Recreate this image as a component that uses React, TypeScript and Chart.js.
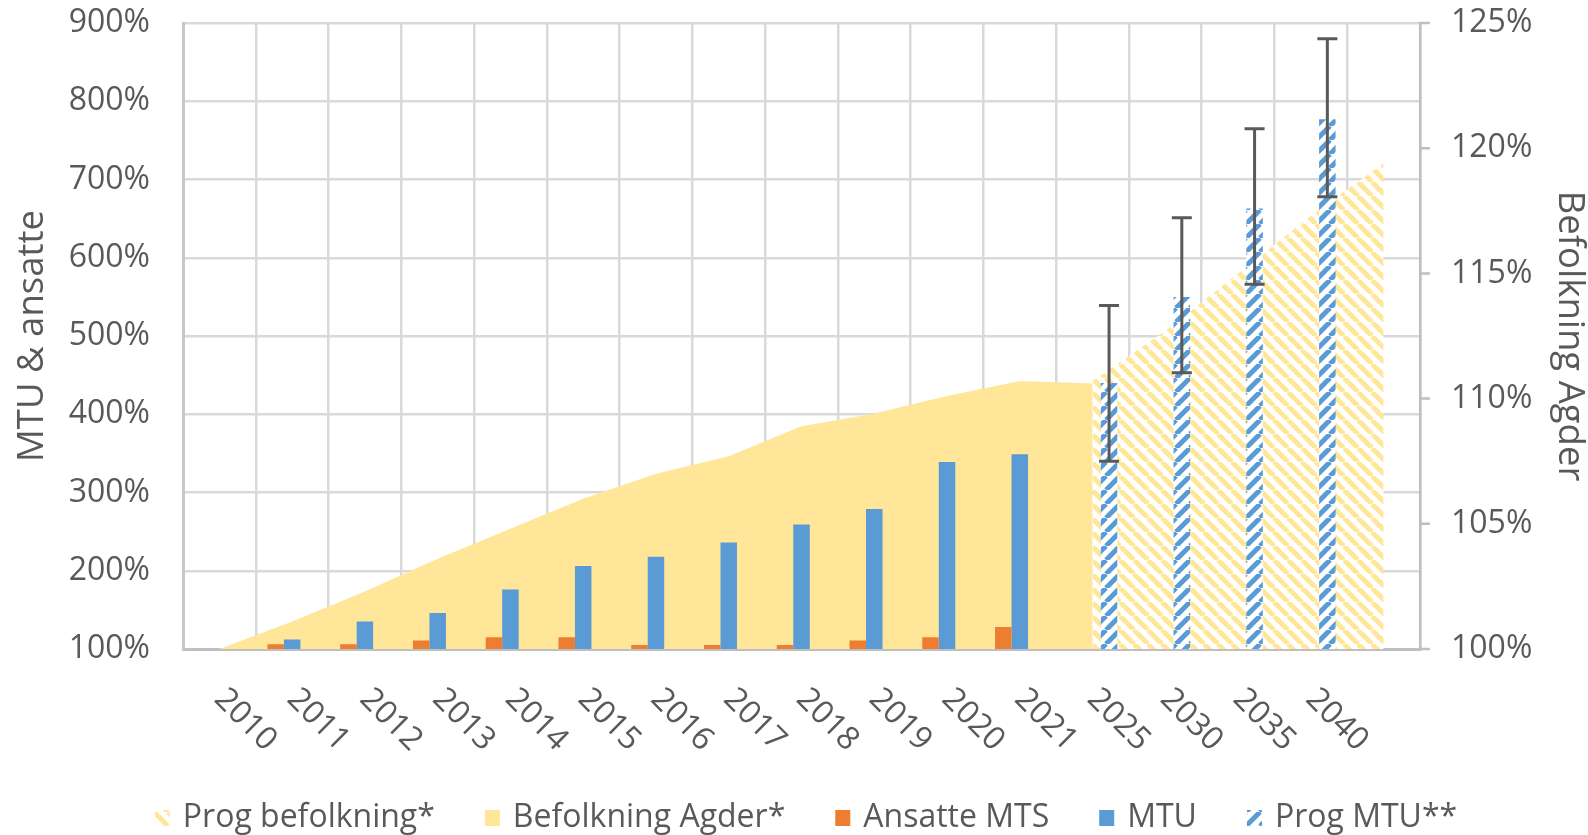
import { useEffect, useRef } from 'react';
import { Chart, registerables } from 'chart.js';

Chart.register(...registerables);

// ---- data ----
const categories = ['2010', '2011', '2012', '2013', '2014', '2015', '2016', '2017', '2018', '2019', '2020', '2021', '2025', '2030', '2035', '2040', ''];
const befolkningAgder = [100.0, 101.1, 102.3, 103.6, 104.8, 106.0, 107.0, 107.7, 108.9, 109.4, 110.1, 110.7, 110.6, null, null, null, null];
const progBefolkning = [null, null, null, null, null, null, null, null, null, null, null, null, 110.7, 112.7, 115.0, 117.3, 119.4];
const ansatteMTS = [100, 106, 106, 111, 115, 115, 105, 105, 105, 111, 115, 128, null, null, null, null, null];
const mtu = [100, 112, 135, 146, 176, 206, 218, 236, 259, 279, 339, 349, null, null, null, null, null];
const progMTU = [null, null, null, null, null, null, null, null, null, null, null, null, 440, 550, 663, 777, null];
const progMTULow = [null, null, null, null, null, null, null, null, null, null, null, null, 340, 453, 566, 678, null];
const progMTUHigh = [null, null, null, null, null, null, null, null, null, null, null, null, 539, 651, 765, 880, null];
const leftAxis = { min: 100, max: 900, step: 100 };
const rightAxis = { min: 100, max: 125, step: 5 };
const legendLabels = ['Prog befolkning*', 'Befolkning Agder*', 'Ansatte MTS', 'MTU', 'Prog MTU**'];

const FONT = "'Open Sans', 'Noto Sans', sans-serif";
const TEXT = '#595959';
const YELLOW = '#FFE699';
const ORANGE = '#ED7D31';
const BLUE = '#5B9BD5';
const TICK_SIZE = 32;
const TITLE_SIZE = 36.5;

function makePattern(ctx: CanvasRenderingContext2D, color: string, dir: 'down' | 'up') {
  const T = 14;
  const c = document.createElement('canvas');
  c.width = T;
  c.height = T;
  const g = c.getContext('2d')!;
  g.fillStyle = '#ffffff';
  g.fillRect(0, 0, T, T);
  g.strokeStyle = color;
  g.lineWidth = 5;
  g.beginPath();
  for (let k = -1; k <= 1; k++) {
    if (dir === 'down') {
      g.moveTo(k * T, 0);
      g.lineTo(k * T + T, T);
    } else {
      g.moveTo(k * T, T);
      g.lineTo(k * T + T, 0);
    }
  }
  g.stroke();
  return ctx.createPattern(c, 'repeat')!;
}

export default function App() {
  const ref = useRef<HTMLCanvasElement | null>(null);

  useEffect(() => {
    const canvas = ref.current!;
    const ctx = canvas.getContext('2d')!;
    const yellowHatch = makePattern(ctx, YELLOW, 'down');
    const blueHatch = makePattern(ctx, BLUE, 'up');
    const legendFills: any[] = [yellowHatch, YELLOW, ORANGE, BLUE, blueHatch];

    const customPlugin = {
      id: 'customDraw',
      afterDatasetsDraw(chart: any) {
        const c = chart.ctx;
        const y = chart.scales.y;
        const meta = chart.getDatasetMeta(4);
        c.save();
        c.strokeStyle = '#595959';
        c.lineWidth = 3;
        progMTU.forEach((v, i) => {
          if (v == null || progMTULow[i] == null) return;
          const x = meta.data[i].x;
          const yl = y.getPixelForValue(progMTULow[i]);
          const yh = y.getPixelForValue(progMTUHigh[i]);
          c.beginPath();
          c.moveTo(x, yl);
          c.lineTo(x, yh);
          c.moveTo(x - 10, yl);
          c.lineTo(x + 10, yl);
          c.moveTo(x - 10, yh);
          c.lineTo(x + 10, yh);
          c.stroke();
        });
        c.restore();
      },
      afterDraw(chart: any) {
        const c = chart.ctx;
        const xs = chart.scales.x;
        const y1 = chart.scales.y1;
        const area = chart.chartArea;
        c.save();
        // outward tick marks on the right axis
        c.strokeStyle = '#BFBFBF';
        c.lineWidth = 2.5;
        c.beginPath();
        y1.ticks.forEach((t: any) => {
          const py = y1.getPixelForValue(t.value);
          c.moveTo(area.right, py);
          c.lineTo(area.right + 10, py);
        });
        c.stroke();
        // rotated category labels
        c.fillStyle = TEXT;
        c.font = `${TICK_SIZE}px ${FONT}`;
        c.textAlign = 'left';
        c.textBaseline = 'middle';
        categories.forEach((lab, i) => {
          if (!lab) return;
          const x = xs.getPixelForValue(i);
          c.save();
          c.translate(x, area.bottom + 45);
          c.rotate(Math.PI / 4);
          c.fillText(lab, 0, 0);
          c.restore();
        });
        // legend
        const boxW = 15, boxH = 16, gap = 13, spacing = 50;
        const widths = legendLabels.map((t) => c.measureText(t).width);
        const total = widths.reduce((a, w) => a + boxW + gap + w, 0) + spacing * (legendLabels.length - 1);
        let lx = 806 - total / 2;
        const baseY = 827;
        c.textBaseline = 'alphabetic';
        legendLabels.forEach((t, i) => {
          c.fillStyle = legendFills[i];
          c.fillRect(lx, baseY - 17, boxW, boxH);
          c.fillStyle = TEXT;
          c.fillText(t, lx + boxW + gap, baseY);
          lx += boxW + gap + widths[i] + spacing;
        });
        c.restore();
      },
    };

    const chart = new Chart(canvas, {
      type: 'bar',
      data: {
        labels: categories,
        datasets: [
          {
            type: 'line',
            label: 'Prog befolkning*',
            data: progBefolkning,
            yAxisID: 'y1',
            fill: 'start',
            backgroundColor: yellowHatch,
            borderColor: 'rgba(0,0,0,0)',
            borderWidth: 0,
            pointRadius: 0,
            tension: 0,
            order: 5,
          } as any,
          {
            type: 'line',
            label: 'Befolkning Agder*',
            data: befolkningAgder,
            yAxisID: 'y1',
            fill: 'start',
            backgroundColor: YELLOW,
            borderColor: 'rgba(0,0,0,0)',
            borderWidth: 0,
            pointRadius: 0,
            tension: 0,
            order: 4,
          } as any,
          {
            label: 'Ansatte MTS',
            data: ansatteMTS,
            yAxisID: 'y',
            backgroundColor: ORANGE,
            barPercentage: 1,
            categoryPercentage: 0.68,
            order: 1,
          },
          {
            label: 'MTU',
            data: mtu,
            yAxisID: 'y',
            backgroundColor: BLUE,
            barPercentage: 1,
            categoryPercentage: 0.68,
            order: 1,
          },
          {
            label: 'Prog MTU**',
            data: progMTU,
            yAxisID: 'y',
            backgroundColor: blueHatch,
            barPercentage: 1,
            categoryPercentage: 0.68,
            order: 1,
          },
        ] as any,
      },
      options: {
        responsive: false,
        animation: false,
        layout: { padding: { top: 23, left: 0, right: 0, bottom: 0 } },
        plugins: {
          legend: { display: false },
          title: { display: false },
          subtitle: { display: false },
          tooltip: { enabled: false },
        },
        scales: {
          x: {
            type: 'category',
            offset: true,
            grid: { color: '#D9D9D9', lineWidth: 2.5, offset: true, drawTicks: false },
            border: { color: '#BFBFBF', width: 3 },
            ticks: { display: false },
            afterFit: (s: any) => { s.height = 186; },
          },
          y: {
            position: 'left',
            min: leftAxis.min,
            max: leftAxis.max,
            ticks: {
              stepSize: leftAxis.step,
              color: TEXT,
              font: { family: FONT, size: TICK_SIZE },
              padding: 3,
              callback: (v: any) => `${v}%`,
            },
            grid: { color: '#D9D9D9', lineWidth: 2.5, drawTicks: true, tickLength: 30, tickColor: 'rgba(0,0,0,0)' },
            border: { color: '#C8C8C8', width: 3 },
            title: {
              display: true,
              text: 'MTU & ansatte',
              color: TEXT,
              font: { family: FONT, size: TITLE_SIZE, lineHeight: 1.2 },
              padding: { top: 11, bottom: 0 },
            },
            afterFit: (s: any) => { s.width = 183; },
          },
          y1: {
            position: 'right',
            min: rightAxis.min,
            max: rightAxis.max,
            ticks: {
              stepSize: rightAxis.step,
              color: TEXT,
              font: { family: FONT, size: TICK_SIZE },
              padding: 3,
              callback: (v: any) => `${v}%`,
            },
            grid: { drawOnChartArea: false, drawTicks: true, tickLength: 28, tickColor: 'rgba(0,0,0,0)' },
            border: { color: '#BFBFBF', width: 2.5 },
            title: {
              display: true,
              text: 'Befolkning Agder',
              color: TEXT,
              font: { family: FONT, size: TITLE_SIZE, lineHeight: 1.0 },
              padding: { top: 0, bottom: 0 },
            },
            afterFit: (s: any) => { s.width = 168; },
          },
        },
      } as any,
      plugins: [customPlugin],
    });

    return () => chart.destroy();
  }, []);

  return (
    <div style={{ position: 'fixed', left: 0, top: 0, width: 1588, height: 835, background: '#fff' }}>
      <canvas ref={ref} width={1588} height={835} style={{ display: 'block' }} />
    </div>
  );
}
